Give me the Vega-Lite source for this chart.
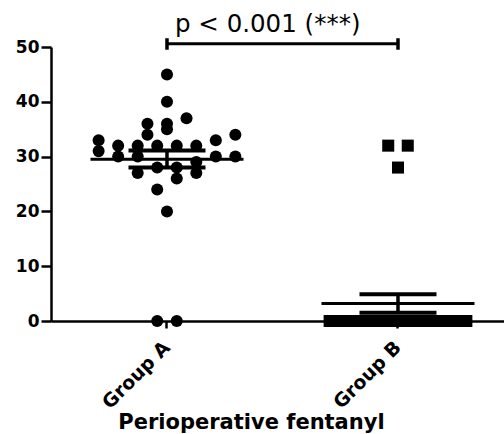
{
  "$schema": "https://vega.github.io/schema/vega-lite/v6.json",
  "width": 453,
  "height": 274,
  "autosize": {"type": "none"},
  "padding": {"left": 51, "top": 47, "right": 0, "bottom": 113},
  "background": "white",
  "config": {
    "view": {"stroke": null},
    "axis": {
      "domainColor": "black",
      "domainWidth": 2.5,
      "tickColor": "black",
      "tickWidth": 2.5,
      "labelColor": "black",
      "labelFont": "DejaVu Sans",
      "labelFontWeight": "bold",
      "grid": false
    }
  },
  "datasets": {
    "points": [
      {"group": "Group A", "value": 45, "slot": 0},
      {"group": "Group A", "value": 40, "slot": 0},
      {"group": "Group A", "value": 37, "slot": 2},
      {"group": "Group A", "value": 36, "slot": -2},
      {"group": "Group A", "value": 36, "slot": 0},
      {"group": "Group A", "value": 35, "slot": 0},
      {"group": "Group A", "value": 34, "slot": -2},
      {"group": "Group A", "value": 34, "slot": 7},
      {"group": "Group A", "value": 33, "slot": -7},
      {"group": "Group A", "value": 33, "slot": 5},
      {"group": "Group A", "value": 31, "slot": -7},
      {"group": "Group A", "value": 32, "slot": -5},
      {"group": "Group A", "value": 32, "slot": -3},
      {"group": "Group A", "value": 32, "slot": -1},
      {"group": "Group A", "value": 32, "slot": 1},
      {"group": "Group A", "value": 32, "slot": 3},
      {"group": "Group A", "value": 30, "slot": -5},
      {"group": "Group A", "value": 30, "slot": -3},
      {"group": "Group A", "value": 30, "slot": 5},
      {"group": "Group A", "value": 30, "slot": 7},
      {"group": "Group A", "value": 29, "slot": 3},
      {"group": "Group A", "value": 28, "slot": -1},
      {"group": "Group A", "value": 28, "slot": 1},
      {"group": "Group A", "value": 27, "slot": -3},
      {"group": "Group A", "value": 27, "slot": 3},
      {"group": "Group A", "value": 26, "slot": 1},
      {"group": "Group A", "value": 24, "slot": -1},
      {"group": "Group A", "value": 20, "slot": 0},
      {"group": "Group A", "value": 0, "slot": -1},
      {"group": "Group A", "value": 0, "slot": 1},
      {"group": "Group B", "value": 32, "slot": -1},
      {"group": "Group B", "value": 32, "slot": 1},
      {"group": "Group B", "value": 28, "slot": 0},
      {"group": "Group B", "value": 0, "slot": -7},
      {"group": "Group B", "value": 0, "slot": -6},
      {"group": "Group B", "value": 0, "slot": -5},
      {"group": "Group B", "value": 0, "slot": -4},
      {"group": "Group B", "value": 0, "slot": -3},
      {"group": "Group B", "value": 0, "slot": -2},
      {"group": "Group B", "value": 0, "slot": -1},
      {"group": "Group B", "value": 0, "slot": 0},
      {"group": "Group B", "value": 0, "slot": 1},
      {"group": "Group B", "value": 0, "slot": 2},
      {"group": "Group B", "value": 0, "slot": 3},
      {"group": "Group B", "value": 0, "slot": 4},
      {"group": "Group B", "value": 0, "slot": 5},
      {"group": "Group B", "value": 0, "slot": 6},
      {"group": "Group B", "value": 0, "slot": 7}
    ],
    "summary": [
      {"group": "Group A", "mean": 29.5, "lo": 28.0, "hi": 31.1},
      {"group": "Group B", "mean": 3.2, "lo": 1.5, "hi": 4.9}
    ],
    "bracket": [
      {"group": "Group A", "group2": "Group B", "y": 50.6, "label": "p < 0.001 (***)", "ty": 52.8}
    ],
    "bracketEnds": [
      {"group": "Group A", "lo": 49.5, "hi": 51.6},
      {"group": "Group B", "lo": 49.5, "hi": 51.6}
    ]
  },
  "encoding": {
    "x": {
      "field": "group",
      "type": "nominal",
      "title": "Perioperative fentanyl",
      "scale": {
        "domain": ["Group A", "Group B"],
        "paddingInner": 0.239,
        "paddingOuter": 0.1,
        "align": 0.608,
        "round": false
      },
      "axis": {
        "labelAngle": -45,
        "labelAlign": "right",
        "labelBaseline": "middle",
        "labelFontSize": 19,
        "labelPadding": 16,
        "tickSize": 7,
        "titleFont": "DejaVu Sans",
        "titleFontWeight": "bold",
        "titleFontSize": 21,
        "titleColor": "black",
        "titleX": 200,
        "titleY": 107,
        "titleAlign": "center",
        "titleBaseline": "alphabetic"
      }
    }
  },
  "layer": [
    {
      "data": {"name": "points"},
      "mark": {"type": "point", "filled": true, "opacity": 1, "color": "black", "size": 145},
      "encoding": {
        "xOffset": {
          "field": "slot",
          "type": "ordinal",
          "scale": {"domain": [-9, -8, -7, -6, -5, -4, -3, -2, -1, 0, 1, 2, 3, 4, 5, 6, 7, 8, 9], "paddingInner": 0, "paddingOuter": 0}
        },
        "y": {
          "field": "value",
          "type": "quantitative",
          "title": null,
          "scale": {"domain": [0, 50], "nice": false},
          "axis": {"values": [0, 10, 20, 30, 40, 50], "tickSize": 10, "labelFontSize": 17, "labelPadding": 2}
        },
        "shape": {"field": "group", "type": "nominal", "scale": {"domain": ["Group A", "Group B"], "range": ["circle", "square"]}, "legend": null}
      }
    },
    {
      "data": {"name": "summary"},
      "mark": {"type": "tick", "color": "black", "size": 153, "thickness": 3, "opacity": 1},
      "encoding": {"y": {"field": "mean", "type": "quantitative"}}
    },
    {
      "data": {"name": "summary"},
      "mark": {"type": "tick", "color": "black", "size": 77, "thickness": 4, "opacity": 1},
      "encoding": {"y": {"field": "lo", "type": "quantitative"}}
    },
    {
      "data": {"name": "summary"},
      "mark": {"type": "tick", "color": "black", "size": 77, "thickness": 4, "opacity": 1},
      "encoding": {"y": {"field": "hi", "type": "quantitative"}}
    },
    {
      "data": {"name": "summary"},
      "mark": {"type": "rule", "color": "black", "strokeWidth": 3.5},
      "encoding": {"y": {"field": "lo", "type": "quantitative"}, "y2": {"field": "hi"}}
    },
    {
      "data": {"name": "bracket"},
      "mark": {"type": "rule", "color": "black", "strokeWidth": 3},
      "encoding": {
        "x": {"field": "group", "type": "nominal", "bandPosition": 0.5},
        "x2": {"field": "group2", "bandPosition": 0.5},
        "y": {"field": "y", "type": "quantitative"}
      }
    },
    {
      "data": {"name": "bracketEnds"},
      "mark": {"type": "rule", "color": "black", "strokeWidth": 3.5},
      "encoding": {"y": {"field": "lo", "type": "quantitative"}, "y2": {"field": "hi"}}
    },
    {
      "data": {"name": "bracket"},
      "mark": {"type": "text", "align": "left", "baseline": "alphabetic", "dx": 8, "font": "DejaVu Sans", "fontSize": 24.5, "color": "black"},
      "encoding": {
        "y": {"field": "ty", "type": "quantitative"},
        "text": {"field": "label"}
      }
    }
  ]
}
